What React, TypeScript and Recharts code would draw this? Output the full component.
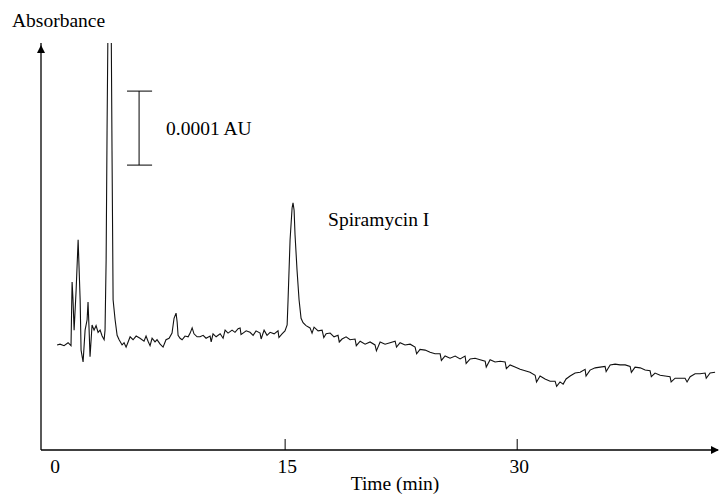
import React from 'react';
import {
  LineChart,
  Line,
  XAxis,
  YAxis,
  ReferenceLine,
  ReferenceDot
} from 'recharts';

// retention time (min)
const time = [
  0.26, 0.45, 0.71, 0.97, 1.16, 1.23, 1.29, 1.36, 1.49, 1.62, 1.75, 1.81, 1.94, 2.07, 2.2, 2.26, 2.33, 2.39,
  2.52, 2.65, 2.78, 2.91, 3.04, 3.17, 3.3, 3.36, 3.43, 3.49, 3.56, 3.75, 3.81, 3.88, 4.01, 4.14, 4.27, 4.46,
  4.59, 4.72, 4.85, 4.98, 5.17, 5.37, 5.62, 5.88, 6.01, 6.14, 6.27, 6.4, 6.59, 6.72, 6.92, 7.11, 7.3, 7.5,
  7.69, 7.82, 7.95, 8.02, 8.08, 8.21, 8.34, 8.53, 8.73, 8.86, 8.99, 9.11, 9.31, 9.5, 9.7, 9.89, 10.15, 10.22,
  10.34, 10.54, 10.8, 10.99, 11.12, 11.31, 11.57, 11.76, 11.96, 12.09, 12.15, 12.28, 12.48, 12.73, 12.93,
  13.12, 13.38, 13.45, 13.64, 13.83, 14.03, 14.29, 14.54, 14.6, 14.8, 14.99, 15.13, 15.19, 15.32, 15.45,
  15.51, 15.58, 15.64, 15.77, 15.9, 16.03, 16.16, 16.35, 16.61, 16.74, 16.87, 17.13, 17.39, 17.5, 17.65,
  17.91, 18.16, 18.42, 18.5, 18.68, 18.94, 19.2, 19.52, 19.6, 19.85, 20.17, 20.49, 20.81, 20.9, 21.14,
  21.46, 21.78, 22.11, 22.2, 22.43, 22.75, 23.08, 23.4, 23.5, 23.72, 24.05, 24.37, 24.69, 25.02, 25.1,
  25.34, 25.66, 25.99, 26.31, 26.63, 26.7, 26.96, 27.28, 27.6, 27.93, 28.0, 28.25, 28.57, 28.9, 29.22,
  29.3, 29.54, 29.86, 30.19, 30.51, 30.83, 31.16, 31.25, 31.48, 31.8, 32.13, 32.45, 32.55, 32.77, 32.97,
  33.16, 33.42, 33.74, 34.07, 34.39, 34.45, 34.71, 35.04, 35.36, 35.68, 35.75, 36.01, 36.33, 36.65, 36.98,
  37.3, 37.38, 37.62, 37.95, 38.27, 38.59, 38.67, 38.91, 39.24, 39.56, 39.88, 39.95, 40.21, 40.53, 40.85,
  40.98, 41.18, 41.5, 41.82, 42.15, 42.22, 42.47, 42.79
];

// detector signal (µAU above the drawn zero line)
const signal = [
  142, 143, 141, 145, 141, 227, 203, 162, 216, 284, 203, 135, 119, 162, 176, 200, 162, 126,
  169, 162, 168, 159, 162, 154, 149, 162, 257, 432, 600, 600, 405, 203, 176, 155, 149, 142,
  145, 139, 146, 153, 149, 154, 151, 147, 154, 147, 141, 151, 146, 149, 143, 139, 149, 151,
  158, 178, 185, 173, 155, 151, 149, 154, 153, 158, 165, 157, 153, 153, 155, 151, 154, 146,
  157, 153, 157, 151, 162, 158, 162, 159, 164, 165, 156, 158, 161, 159, 155,
  161, 158, 150, 162, 155, 159, 157, 161, 152, 157, 161, 169, 203, 284, 327,
  334, 324, 291, 243, 203, 178, 172, 168, 165, 158, 166, 161, 162, 152, 157,
  158, 153, 155, 146, 150, 153, 149, 150, 141, 147, 143, 146, 142, 134, 146,
  143, 145, 147, 139, 145, 142, 143, 139, 130, 136, 135, 132, 130, 130, 121,
  127, 124, 127, 123, 127, 117, 123, 124, 122, 120, 112, 122, 119, 120, 119,
  110, 115, 112, 109, 107, 105, 101, 92, 100, 96, 93, 93, 86, 92, 89,
  96, 100, 104, 105, 109, 100, 108, 111, 112, 113, 106, 115, 116, 115, 115,
  113, 105, 112, 111, 108, 107, 99, 104, 101, 100, 99, 92, 97, 97, 97,
  92, 99, 103, 103, 104, 97, 104, 105
];

const xTicks = [0, 15, 30];

// 0.0001 AU scale bar
const scaleBarTime = 5.56;
const scaleBarCapStart = 4.78;
const scaleBarCapEnd = 6.4;
const scaleBarTop = 485;
const scaleBarBottom = 385;

const peakLabelTime = 17.71;
const peakLabelSignal = 312;

const data = time.map((t, i) => ({ t, a: signal[i] }));

const FONT = '"Liberation Serif", "Times New Roman", serif';
const FS = 19.5;

const TimeTick = (props: any) => {
  const { x, y, payload } = props;
  return (
    <g>
      {payload.value !== 0 && <line x1={x} x2={x} y1={y} y2={y - 11} stroke="#000" strokeWidth={1} />}
      <text x={x + 2} y={y + 23} textAnchor="middle" fontSize={FS} fontFamily={FONT} fill="#000">
        {payload.value}
      </text>
    </g>
  );
};

const XArrow = (props: any) => {
  const { x, y, width } = props.viewBox;
  const end = x + width;
  return (
    <g>
      <polygon points={`${end + 1},${y} ${end - 7},${y - 4} ${end - 7},${y + 4}`} fill="#000" />
      <text x={x + 354} y={y + 40} textAnchor="middle" fontSize={FS} fontFamily={FONT} fill="#000">
        Time (min)
      </text>
    </g>
  );
};

const YArrow = (props: any) => {
  const { x, y, width } = props.viewBox;
  const ax = x + width;
  return (
    <g>
      <polygon points={`${ax},${y + 2} ${ax - 4},${y + 10} ${ax + 4},${y + 10}`} fill="#000" />
      <text x={ax - 29} y={y - 16} fontSize={FS} fontFamily={FONT} fill="#000">
        Absorbance
      </text>
    </g>
  );
};

const Chromatogram: React.FC = () => {
  return (
    <div style={{ position: 'absolute', left: 0, top: 0, background: '#fff' }}>
      <LineChart
        width={721}
        height={495}
        data={data}
        margin={{ top: 43, right: 3, left: 11, bottom: 5 }}
      >
        <XAxis
          dataKey="t"
          type="number"
          domain={[-0.78, 42.98]}
          ticks={xTicks}
          height={40}
          tickSize={0}
          tickMargin={0}
          tickLine={false}
          tick={<TimeTick />}
          axisLine={{ stroke: '#000', strokeWidth: 1.3 }}
          allowDataOverflow
          label={{ content: XArrow }}
        />
        <YAxis
          type="number"
          domain={[0, 550]}
          width={30}
          tick={false}
          tickLine={false}
          axisLine={{ stroke: '#000', strokeWidth: 1.3 }}
          allowDataOverflow
          label={{ content: YArrow }}
        />
        <ReferenceLine
          segment={[{ x: scaleBarTime, y: scaleBarBottom }, { x: scaleBarTime, y: scaleBarTop }]}
          stroke="#000"
          strokeWidth={1}
          label={{ value: '0.0001 AU', position: 'right', offset: 27, fill: '#000', fontSize: FS, fontFamily: FONT }}
        />
        <ReferenceLine
          segment={[{ x: scaleBarCapStart, y: scaleBarTop }, { x: scaleBarCapEnd, y: scaleBarTop }]}
          stroke="#000"
          strokeWidth={1}
        />
        <ReferenceLine
          segment={[{ x: scaleBarCapStart, y: scaleBarBottom }, { x: scaleBarCapEnd, y: scaleBarBottom }]}
          stroke="#000"
          strokeWidth={1}
        />
        <ReferenceDot
          x={peakLabelTime}
          y={peakLabelSignal}
          r={1}
          fill="none"
          stroke="none"
          label={{ value: 'Spiramycin I', position: 'right', offset: 0, fill: '#000', fontSize: FS, fontFamily: FONT }}
        />
        <Line
          type="linear"
          dataKey="a"
          stroke="#111"
          strokeWidth={1.1}
          dot={false}
          isAnimationActive={false}
        />
      </LineChart>
    </div>
  );
};

export default Chromatogram;
